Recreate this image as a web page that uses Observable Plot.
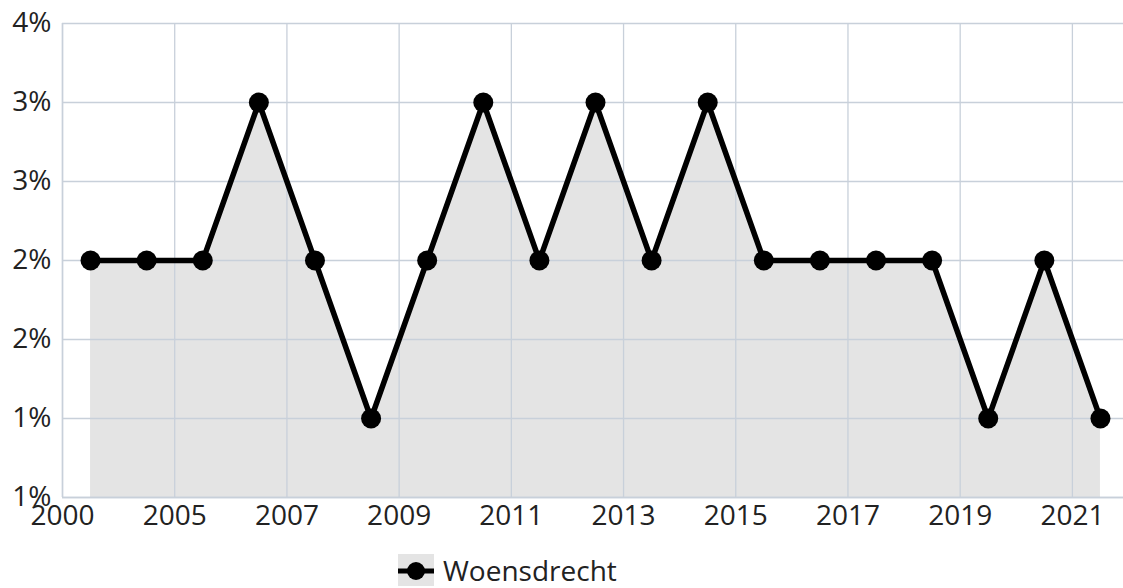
<!DOCTYPE html>
<html><head><meta charset="utf-8">
<script src="https://cdn.jsdelivr.net/npm/d3@7"></script>
<script src="https://cdn.jsdelivr.net/npm/@observablehq/plot@0.6"></script>
<style>
body{margin:0;background:#fff;font-family:"Open Sans",sans-serif;overflow:hidden;}
#legend{display:flex;align-items:center;margin-left:398px;margin-top:9px;font-size:28px;color:#222;}
#legend .lbl{margin-left:9px;line-height:32px;}
</style></head><body><div id="chart"></div><div id="legend"></div><script>
const years = ["2000","2003","2005","2006","2007","2008","2009","2010","2011","2012","2013","2014","2015","2016","2017","2018","2019","2020","2021"];
const values = [2,2,2,3,2,1,2,3,2,3,2,3,2,2,2,2,1,2,1];
const seriesName = "Woensdrecht";
const yTicks = [0.5,1,1.5,2,2.5,3,3.5];
const xTickIdx = [0,2,4,6,8,10,12,14,16,18];

const data = years.map((y,i)=>({pos:i+0.5, year:y, value:values[i]}));
const gridColor = "#c8d0da";
const chart = Plot.plot({
  width:1123, height:545,
  marginLeft:62, marginTop:23, marginBottom:48, marginRight:-5,
  style:{fontFamily:'"Open Sans",sans-serif', fontSize:"28px", color:"#222", background:"#fff", overflow:"visible"},
  x:{type:"linear", domain:[0,years.length], ticks:xTickIdx, tickFormat:i=>years[i], label:null},
  y:{domain:[0.5,3.5], ticks:yTicks, tickFormat:d=>Math.round(d)+"%", label:null},
  marks:[
    Plot.areaY(data,{x:"pos", y1:0.5, y2:"value", fill:"#e4e4e4", curve:"linear"}),
    Plot.gridX(xTickIdx,{stroke:gridColor, strokeOpacity:1, strokeWidth:1.3}),
    Plot.gridY(yTicks,{stroke:gridColor, strokeOpacity:1, strokeWidth:1.3}),
    Plot.ruleY([0.5],{stroke:gridColor, strokeWidth:1.5}),
    Plot.ruleX([0],{stroke:gridColor, strokeWidth:1.5}),
    Plot.axisX(xTickIdx,{tickSize:0, tickPadding:8, tickFormat:i=>years[i], fontSize:28, label:null}),
    Plot.axisY(yTicks,{tickSize:0, tickPadding:11, tickFormat:d=>Math.round(d)+"%", fontSize:28, label:null}),
    Plot.line(data,{x:"pos", y:"value", stroke:"#000", strokeWidth:5.5, strokeLinejoin:"miter"}),
    Plot.dot(data,{x:"pos", y:"value", r:10, fill:"#000", stroke:"none"})
  ]
});
document.getElementById("chart").appendChild(chart);

const lg = document.getElementById("legend");
lg.innerHTML = `<svg width="36" height="32"><rect width="36" height="32" fill="#e4e4e4"/><line x1="0" x2="36" y1="17" y2="17" stroke="#000" stroke-width="5"/><circle cx="18" cy="17" r="9" fill="#000"/></svg><span class="lbl">${seriesName}</span>`;
</script></body></html>
